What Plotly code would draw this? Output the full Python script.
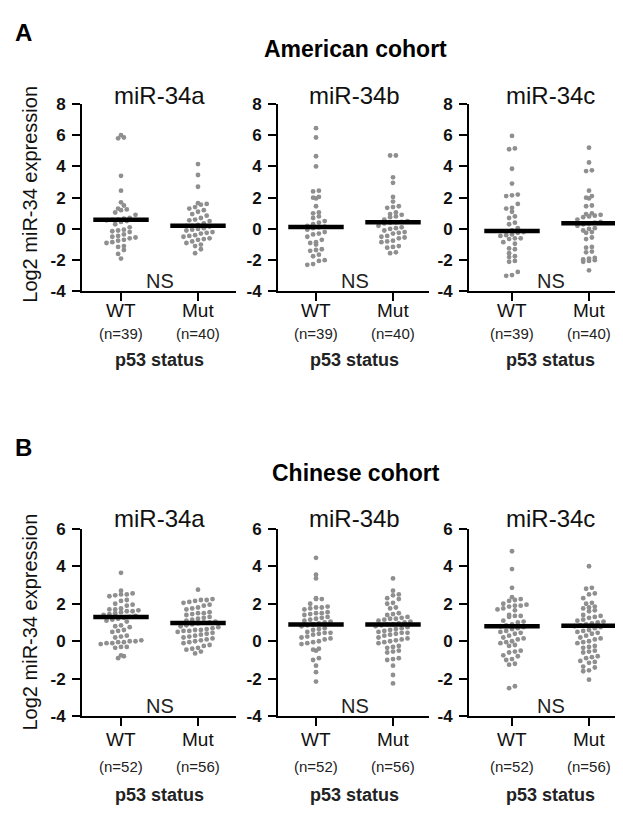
import numpy as np
import plotly.graph_objects as go

# ---------------- data ----------------
mirs = ["miR-34a", "miR-34b", "miR-34c"]
groups = ["WT", "Mut"]
n_labels_american = ["(n=39)", "(n=40)"]
n_labels_chinese = ["(n=52)", "(n=56)"]
yticks_american = [-4, -2, 0, 2, 4, 6, 8]
yticks_chinese = [-4, -2, 0, 2, 4, 6]

# American cohort
am_a_wt = [6.0, 5.85, 5.8, 3.4, 2.45, 1.7, 1.5, 1.3, 1.25, 1.2, 1.05, 0.9, 0.7, 0.65, 0.6, 0.58,
           0.55, 0.5, 0.45, 0.3, 0.1, -0.05, -0.1, -0.15, -0.2, -0.35, -0.45, -0.5, -0.55, -0.6,
           -0.7, -0.75, -0.85, -0.9, -1.1, -1.15, -1.35, -1.6, -1.9]
am_a_mut = [4.15, 3.45, 2.7, 1.65, 1.6, 1.55, 1.4, 1.3, 1.2, 1.1, 0.95, 0.85, 0.7, 0.6, 0.55, 0.5,
            0.35, 0.25, 0.2, 0.2, 0.15, 0.05, 0.0, -0.05, -0.1, -0.2, -0.25, -0.3, -0.4, -0.45,
            -0.5, -0.6, -0.65, -0.7, -0.8, -0.9, -1.0, -1.1, -1.3, -1.55]
am_b_wt = [6.45, 5.85, 4.65, 4.0, 2.45, 2.4, 2.05, 2.0, 1.95, 1.45, 1.05, 1.0, 0.8, 0.7, 0.5, 0.4,
           0.3, 0.2, 0.15, 0.1, 0.05, -0.05, -0.2, -0.3, -0.35, -0.5, -0.7, -0.85, -0.9, -1.0,
           -1.3, -1.35, -1.4, -1.65, -1.75, -2.0, -2.05, -2.25, -2.3]
am_b_mut = [4.7, 4.7, 3.3, 2.95, 2.05, 1.75, 1.45, 1.4, 1.35, 1.05, 0.95, 0.9, 0.8, 0.75, 0.6, 0.5,
            0.45, 0.42, 0.4, 0.35, 0.2, 0.1, 0.05, 0.0, -0.1, -0.2, -0.25, -0.3, -0.45, -0.5,
            -0.55, -0.6, -0.75, -0.8, -0.85, -1.1, -1.15, -1.2, -1.5, -1.55]
am_c_wt = [5.95, 5.15, 5.1, 3.85, 2.9, 2.2, 2.15, 2.1, 1.6, 1.35, 1.3, 1.1, 0.8, 0.7, 0.4, 0.3,
           0.05, -0.1, -0.15, -0.2, -0.25, -0.35, -0.4, -0.45, -0.6, -0.6, -0.65, -0.85, -0.95,
           -1.25, -1.3, -1.55, -1.75, -1.8, -2.05, -2.1, -2.75, -2.95, -3.0]
am_c_mut = [5.2, 4.25, 3.75, 3.7, 2.45, 2.1, 2.0, 1.95, 1.5, 1.45, 1.0, 0.95, 0.9, 0.85, 0.8, 0.75,
            0.6, 0.45, 0.4, 0.35, 0.3, 0.2, 0.05, 0.0, -0.1, -0.2, -0.25, -0.55, -0.65, -1.15,
            -1.2, -1.45, -1.5, -1.85, -1.9, -1.95, -2.0, -2.05, -2.1, -2.65]
am_medians = [[0.58, 0.21], [0.13, 0.42], [-0.14, 0.37]]

# Chinese cohort
cn_a_wt = [3.65, 2.7, 2.55, 2.5, 2.5, 2.45, 2.4, 2.2, 2.15, 2.0, 1.95, 1.9, 1.75, 1.7, 1.7, 1.65,
           1.6, 1.6, 1.55, 1.5, 1.45, 1.4, 1.35, 1.3, 1.25, 1.2, 1.15, 1.1, 1.05, 0.85, 0.8, 0.75,
           0.6, 0.55, 0.5, 0.3, 0.25, 0.2, 0.05, 0.0, 0.0, -0.05, -0.05, -0.1, -0.1, -0.15, -0.3,
           -0.3, -0.35, -0.75, -0.8, -0.9]
cn_a_mut = [2.75, 2.25, 2.2, 2.2, 2.15, 2.1, 2.05, 1.95, 1.9, 1.8, 1.75, 1.7, 1.55, 1.5, 1.5, 1.45,
            1.4, 1.3, 1.25, 1.2, 1.15, 1.1, 1.05, 1.0, 1.0, 0.95, 0.9, 0.85, 0.8, 0.75, 0.7, 0.65,
            0.6, 0.6, 0.55, 0.55, 0.5, 0.45, 0.4, 0.35, 0.3, 0.25, 0.2, 0.15, 0.1, 0.05, 0.0,
            -0.05, -0.1, -0.2, -0.25, -0.35, -0.4, -0.45, -0.55, -0.65]
cn_b_wt = [4.45, 3.55, 3.35, 2.3, 2.25, 2.25, 2.0, 1.85, 1.8, 1.8, 1.75, 1.7, 1.55, 1.5, 1.5, 1.45,
           1.4, 1.3, 1.25, 1.2, 1.15, 1.1, 1.05, 1.0, 0.95, 0.9, 0.85, 0.8, 0.7, 0.65, 0.6, 0.5,
           0.45, 0.45, 0.4, 0.35, 0.25, 0.2, 0.15, 0.1, 0.0, -0.05, -0.1, -0.15, -0.4, -0.45,
           -0.5, -0.9, -1.0, -1.3, -1.65, -2.15]
cn_b_mut = [3.35, 2.7, 2.5, 2.45, 2.3, 2.25, 2.05, 2.0, 1.8, 1.75, 1.5, 1.45, 1.4, 1.3, 1.25, 1.2,
            1.2, 1.15, 1.1, 1.05, 1.0, 0.95, 0.9, 0.9, 0.85, 0.8, 0.75, 0.7, 0.65, 0.6, 0.55, 0.5,
            0.45, 0.45, 0.4, 0.35, 0.3, 0.2, 0.15, 0.1, 0.05, 0.0, -0.05, -0.1, -0.25, -0.3,
            -0.35, -0.5, -0.55, -0.6, -0.9, -0.95, -1.0, -1.3, -1.8, -2.25]
cn_c_wt = [4.8, 3.85, 2.85, 2.35, 2.25, 2.2, 2.15, 2.0, 1.95, 1.9, 1.9, 1.85, 1.75, 1.7, 1.65, 1.4,
           1.35, 1.35, 1.3, 1.1, 1.05, 1.0, 0.9, 0.85, 0.8, 0.75, 0.7, 0.65, 0.55, 0.5, 0.45, 0.4,
           0.3, 0.2, 0.15, 0.1, 0.0, -0.05, -0.1, -0.2, -0.25, -0.5, -0.55, -0.6, -0.75, -0.8,
           -0.95, -1.0, -1.2, -1.25, -2.4, -2.5]
cn_c_mut = [4.0, 2.85, 2.8, 2.55, 2.5, 2.3, 2.05, 2.0, 1.85, 1.8, 1.75, 1.65, 1.6, 1.4, 1.35, 1.3,
            1.25, 1.15, 1.1, 1.05, 1.0, 0.95, 0.9, 0.85, 0.8, 0.75, 0.7, 0.6, 0.55, 0.5, 0.45, 0.4,
            0.3, 0.2, 0.15, 0.1, 0.0, -0.05, -0.1, -0.25, -0.3, -0.35, -0.5, -0.55, -0.6, -0.8,
            -0.85, -0.9, -1.05, -1.1, -1.15, -1.35, -1.4, -1.55, -1.6, -2.05]
cn_medians = [[1.29, 0.97], [0.90, 0.89], [0.80, 0.83]]

american = [[am_a_wt, am_a_mut], [am_b_wt, am_b_mut], [am_c_wt, am_c_mut]]
chinese = [[cn_a_wt, cn_a_mut], [cn_b_wt, cn_b_mut], [cn_c_wt, cn_c_mut]]

# ---------------- layout geometry (pixels) ----------------
W, H = 623, 813
FONT = "Liberation Sans, Arial, sans-serif"
TXT = "#111111"
DOT = "#8f8f8f"
# per panel: axis left, axis right, WT tick, Mut tick
panels_px = [(74, 228, 113, 190), (270, 421, 308, 385), (461, 620, 504, 581)]
rows = [
    dict(top=89, bot=281, yr=(-4, 8), ticks=yticks_american, data=american, med=am_medians,
         nlab=n_labels_american, title="American cohort", title_y=33, letter="A", letter_y=16,
         sub_y=80, ns_y=270, grp_y=301, n_y=324, p53_y=351, ytitle_y=182),
    dict(top=524, bot=716, yr=(-4, 6), ticks=yticks_chinese, data=chinese, med=cn_medians,
         nlab=n_labels_chinese, title="Chinese cohort", title_y=467, letter="B", letter_y=441,
         sub_y=514, ns_y=705, grp_y=740, n_y=767, p53_y=797, ytitle_y=620),
]


def px_x(p):
    return p / W


def px_y(p):
    return 1 - p / H


def swarm(vals, px_per_y, px_per_x, step=5.8):
    """GraphPad-like scatter: bin y values by dot size, centre each row."""
    v = np.asarray(vals, dtype=float)
    bins = np.round(v * px_per_y / step).astype(int)
    offs = np.zeros(len(v))
    for b in np.unique(bins):
        idx = np.where(bins == b)[0]
        idx = idx[np.argsort(v[idx])]
        k = len(idx)
        for j, i in enumerate(idx):
            offs[i] = (j - (k - 1) / 2) * step / px_per_x
    return offs


fig = go.Figure()
layout = dict(width=W, height=H, margin=dict(l=0, r=0, t=0, b=0), showlegend=False,
              plot_bgcolor="white", paper_bgcolor="white", font=dict(family=FONT, color=TXT))
annotations = []

ax = 0
for r, row in enumerate(rows):
    px_per_y = (row["bot"] - row["top"]) / (row["yr"][1] - row["yr"][0])
    for p, (x0, x1, xwt, xmut) in enumerate(panels_px):
        ax += 1
        xa = "x" if ax == 1 else f"x{ax}"
        ya = "y" if ax == 1 else f"y{ax}"
        ppx = xmut - xwt
        xr = (1 - (xwt - x0) / ppx, 2 + (x1 - xmut) / ppx)
        layout["xaxis" if ax == 1 else f"xaxis{ax}"] = dict(
            domain=[px_x(x0), px_x(x1)], range=list(xr), anchor=ya,
            showline=True, linecolor="black", linewidth=2, showgrid=False, zeroline=False,
            ticks="outside", ticklen=8, tickwidth=2, tickcolor="black",
            tickvals=[1, 2], showticklabels=False)
        layout["yaxis" if ax == 1 else f"yaxis{ax}"] = dict(
            domain=[px_y(row["bot"]), px_y(row["top"])], range=list(row["yr"]), anchor=xa,
            showline=True, linecolor="black", linewidth=2, showgrid=False, zeroline=False,
            ticks="outside", ticklen=8, tickwidth=2, tickcolor="black",
            tickvals=row["ticks"], ticktext=[f"<b>{t}</b>" for t in row["ticks"]],
            ticklabelstandoff=3,
            tickfont=dict(size=17, color=TXT, family=FONT))
        for g in range(2):
            vals = row["data"][p][g]
            offs = swarm(vals, px_per_y, ppx)
            fig.add_trace(go.Scatter(
                x=(g + 1) + offs, y=vals, mode="markers", xaxis=xa, yaxis=ya,
                marker=dict(size=4.8, color=DOT, line=dict(width=0)), hoverinfo="y"))
            m = row["med"][p][g]
            fig.add_trace(go.Scatter(
                x=[g + 1 - 0.36, g + 1 + 0.36], y=[m, m], mode="lines", xaxis=xa, yaxis=ya,
                line=dict(color="black", width=4.5), hoverinfo="skip"))
            # group labels
            annotations.append(dict(x=g + 1, xref=xa, y=px_y(row["grp_y"]), yref="paper",
                                    text=groups[g], showarrow=False, xanchor="center",
                                    yanchor="middle", font=dict(size=19, color=TXT)))
            annotations.append(dict(x=g + 1, xref=xa, y=px_y(row["n_y"]), yref="paper",
                                    text=row["nlab"][g], showarrow=False, xanchor="center",
                                    yanchor="middle", font=dict(size=15, color="#222")))
        annotations.append(dict(x=1.5, xref=xa, y=px_y(row["sub_y"]), yref="paper",
                                text=mirs[p], showarrow=False, xanchor="center",
                                yanchor="middle", font=dict(size=24, color=TXT)))
        annotations.append(dict(x=1.5, xref=xa, y=px_y(row["ns_y"]), yref="paper",
                                text="NS", showarrow=False, xanchor="center",
                                yanchor="middle", font=dict(size=20, color="#222")))
        annotations.append(dict(x=1.5, xref=xa, y=px_y(row["p53_y"]), yref="paper",
                                text="<b>p53 status</b>", showarrow=False, xanchor="center",
                                yanchor="middle", font=dict(size=18, color="#222")))
    annotations.append(dict(x=px_x(348), xref="paper", y=px_y(row["title_y"]), yref="paper",
                            text="<b>" + row["title"] + "</b>", showarrow=False,
                            xanchor="center", yanchor="middle",
                            font=dict(size=23, color="black")))
    annotations.append(dict(x=px_x(5), xref="paper", y=px_y(row["letter_y"]), yref="paper",
                            text="<b>" + row["letter"] + "</b>", showarrow=False,
                            xanchor="left", yanchor="middle", font=dict(size=24, color="black")))
    annotations.append(dict(x=px_x(22), xref="paper", y=px_y(row["ytitle_y"]), yref="paper",
                            text="Log2 miR-34 expression", textangle=-90, showarrow=False,
                            xanchor="center", yanchor="middle", font=dict(size=20, color=TXT)))

layout["annotations"] = annotations
fig.update_layout(**layout)
fig.write_html("out.html")
